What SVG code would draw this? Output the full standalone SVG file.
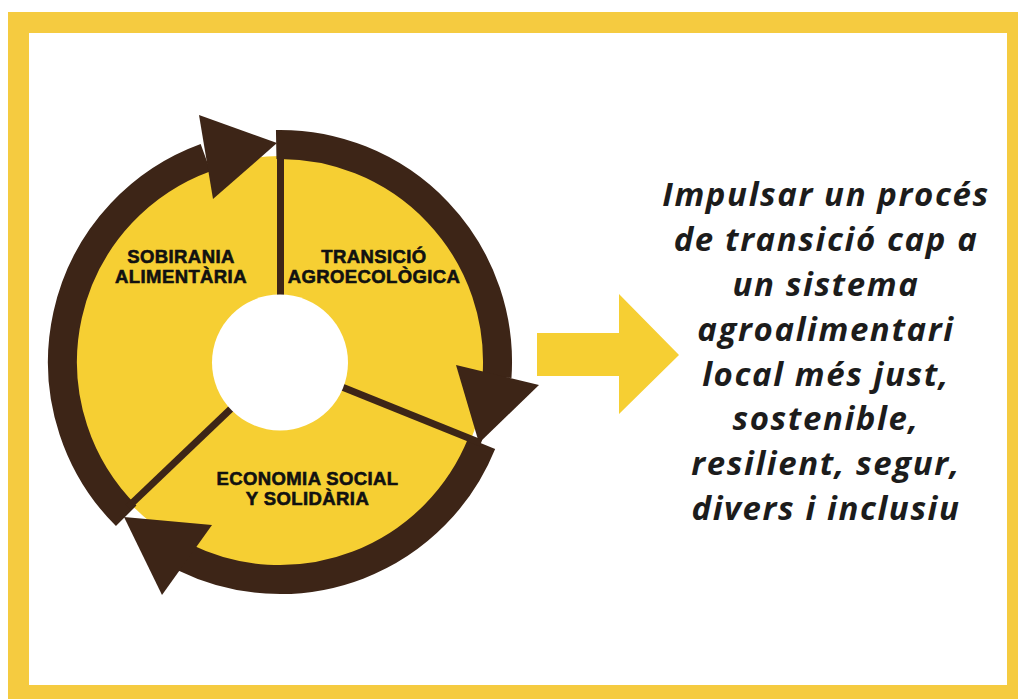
<svg xmlns="http://www.w3.org/2000/svg" width="1018" height="699" viewBox="0 0 1018 699">
  <defs>
    <style>
      .band { fill: none; stroke: #3d2517; stroke-width: 29; stroke-linecap: butt; }
      .head { fill: #3d2517; }
      .div { stroke: #3d2517; stroke-width: 7; }
      .lbl { font-family: "Liberation Sans", Arial, sans-serif; font-weight: bold; font-size: 18.5px; letter-spacing: 0.4px; fill: #111; stroke: #111; stroke-width: 0.6; text-anchor: middle; }
      .goal { font-family: "Open Sans", "Liberation Sans", sans-serif; font-weight: bold; font-style: italic; font-size: 33px; letter-spacing: 1.6px; fill: #1c1c1c; text-anchor: middle; }
    </style>
  </defs>
  <rect x="0" y="0" width="1018" height="699" fill="#ffffff"/>
  <g id="frame">
    <rect x="8" y="12" width="1010" height="687" fill="#f5cb40"/>
    <rect x="29" y="33" width="978" height="652" fill="#ffffff"/>
  </g>
  <g id="cycle-base">
    <circle cx="280" cy="362" r="206" fill="#f6cf33"/>
  </g>
  <g id="connectors">
    <path class="band" d="M126.2,515.8 A217.5,217.5 0 0 1 205.6,157.6"/>
    <polygon class="head" points="199,115 277,143 213,199"/>
    <path class="band" d="M276.2,144.5 A217.5,217.5 0 0 1 497,377"/>
    <polygon class="head" points="456,365 539,385 479,443"/>
    <path class="band" d="M481.7,443.5 A217.5,217.5 0 0 1 184.6,557.5"/>
    <polygon class="head" points="212,525 162,595 124,517"/>
    <line class="div" x1="280.5" y1="362" x2="280.5" y2="159"/>
    <line class="div" x1="280" y1="362" x2="481" y2="443"/>
    <line class="div" x1="280" y1="362" x2="128" y2="507"/>
  </g>
  <g id="center">
    <circle cx="280" cy="362.5" r="68" fill="#ffffff"/>
  </g>
  <g id="node-sobirania">
    <text class="lbl" x="181" y="263">SOBIRANIA</text>
    <text class="lbl" x="181" y="283">ALIMENTÀRIA</text>
  </g>
  <g id="node-transicio">
    <text class="lbl" x="374" y="263">TRANSICIÓ</text>
    <text class="lbl" x="374" y="283">AGROECOLÒGICA</text>
  </g>
  <g id="node-economia">
    <text class="lbl" x="307.5" y="485">ECONOMIA SOCIAL</text>
    <text class="lbl" x="307.5" y="505">Y SOLIDÀRIA</text>
  </g>
  <g id="result-arrow">
    <polygon points="537,333 619,333 619,294 679,355 619,414 619,376 537,376" fill="#f6cf33"/>
  </g>
  <g id="node-goal">
    <text class="goal" x="826" y="206">Impulsar un procés</text>
    <text class="goal" x="826" y="251">de transició cap a</text>
    <text class="goal" x="826" y="296">un sistema</text>
    <text class="goal" x="826" y="341">agroalimentari</text>
    <text class="goal" x="826" y="386">local més just,</text>
    <text class="goal" x="826" y="430">sostenible,</text>
    <text class="goal" x="826" y="475">resilient, segur,</text>
    <text class="goal" x="826" y="520">divers i inclusiu</text>
  </g>
</svg>
